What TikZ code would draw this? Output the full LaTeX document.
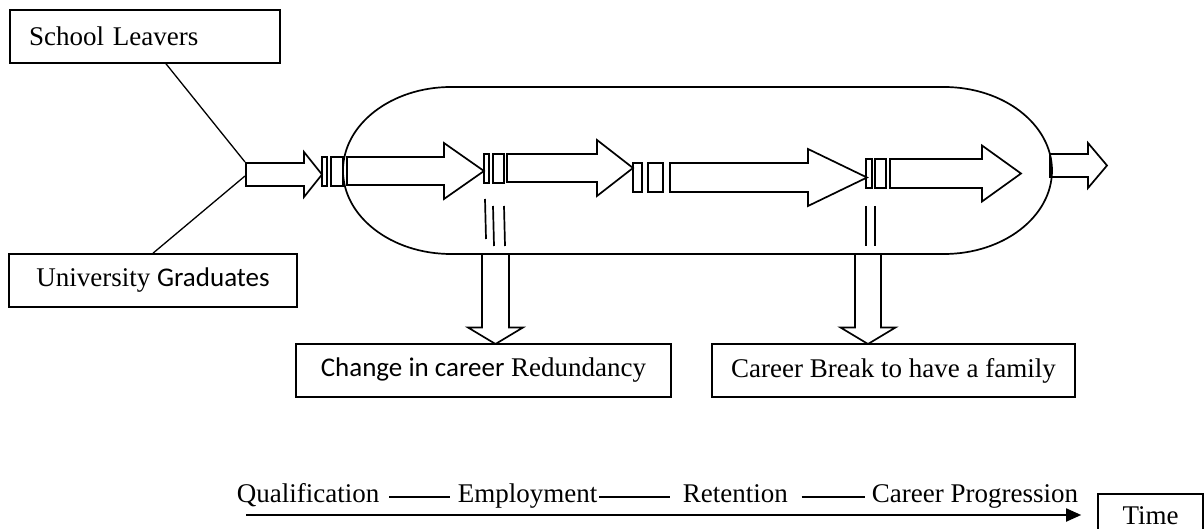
\documentclass[tikz,border=0pt]{standalone}
\usepackage{fontspec}
\setmainfont{Liberation Serif}
\newfontfamily\calibrifont{Carlito}
\usetikzlibrary{arrows.meta}

% fat arrow: left x, centre y, half shaft, head base x, half head, tip x
\newcommand{\fatarrow}[6]{%
  \draw (#1,#2-#3) -- (#4,#2-#3) -- (#4,#2-#5) -- (#6,#2)
     -- (#4,#2+#5) -- (#4,#2+#3) -- (#1,#2+#3) -- cycle;}
% drop arrow: centre x, half shaft, top y, head base y, half head, tip y
\newcommand{\droparrow}[6]{%
  \draw (#1-#2,#3) -- (#1-#2,#4) -- (#1-#5,#4) -- (#1,#6)
     -- (#1+#5,#4) -- (#1+#2,#4) -- (#1+#2,#3);}

\begin{document}
\begin{tikzpicture}[x=1pt,y=-1pt,line width=1.7pt]
    \tikzstyle{box}=[draw,line width=1.6pt,inner sep=0pt,minimum height=53pt,font=\fontsize{27}{32}\selectfont]
    \tikzstyle{stage}=[inner sep=0pt,anchor=base west,font=\fontsize{27}{32}\selectfont]
    \useasboundingbox (0,0) rectangle (1204,529);

    % intake
    \node[box,minimum width=270pt,text width=232pt,align=left] (school) at (145,36.5) {School Leavers};
    \node[box,minimum width=288pt] (uni) at (153,280.5) {University {\calibrifont Graduates}};
    \coordinate (join1) at (245,162);
    \coordinate (join2) at (245,176);
    \draw[line width=1.3pt] ([xshift=21pt]school.south) -- (join1);
    \draw[line width=1.3pt] (uni.north) -- (join2);

    % career pipe
    \draw (451,87) -- (944,87) arc[start angle=90,end angle=-90,x radius=108pt,y radius=83.5pt]
      -- (451,254) arc[start angle=270,end angle=90,x radius=108pt,y radius=83.5pt] -- cycle;

    \fatarrow{246}{174.5}{11.5}{304}{22.5}{322}
    \fatarrow{347}{171}{14}{444}{28}{484}
    \fatarrow{507}{168}{14}{597}{28}{633}
    \fatarrow{670}{177.5}{14.5}{808}{28.5}{867}
    \fatarrow{890}{173.5}{14.5}{982}{28}{1021}
    \fatarrow{1050}{165.5}{11.5}{1088}{22.5}{1107}

    % gates
    \draw (322,157) rectangle (327,186);
    \draw (331,157) rectangle (343,186);
    \draw (484,154) rectangle (489,183);
    \draw (493,154) rectangle (504,183);
    \draw (633,163) rectangle (642,192);
    \draw (648,163) rectangle (663,192);
    \draw (866,159) rectangle (872,188);
    \draw (875,159) rectangle (886,188);

    % leaks
    \draw (485,199) -- (486,239);
    \draw (493,206) -- (494,246);
    \draw (504,206) -- (505,246);
    \draw (866,206) -- (866,246);
    \draw (875,206) -- (875,246);

    \droparrow{495.5}{13.5}{254}{327.5}{27.5}{344}
    \droparrow{868}{13}{254}{327.5}{27.5}{344}

    \node[box,minimum width=375pt] (change) at (483.5,370.5) {{\calibrifont Change in career} Redundancy};
    \node[box,minimum width=363pt] (brk) at (893.5,370.5) {Career Break to have a family};

    % time line
    \node[stage] (qual) at (236,502) {Qualification};
    \node[stage] (empl) at (457,502) {Employment};
    \node[stage] (ret) at (682,502) {Retention};
    \node[stage] (prog) at (871,502) {Career Progression};
    \draw[line width=1.3pt] ([xshift=9pt,yshift=5pt]qual.base east) -- ([xshift=-7pt,yshift=5pt]empl.base west);
    \draw[line width=1.3pt] ([xshift=1pt,yshift=5pt]empl.base east) -- ([xshift=-12pt,yshift=5pt]ret.base west);
    \draw[line width=1.3pt] ([xshift=13pt,yshift=5pt]ret.base east) -- ([xshift=-6pt,yshift=5pt]prog.base west);

    \node[box,minimum width=105pt,minimum height=44pt] (time) at (1150.5,516) {Time};
    \coordinate (tstart) at (246,515);
    \draw[line width=1.8pt,-{Triangle[length=15pt,width=13pt]}] (tstart) -- ([xshift=-16pt]time.west |- tstart);
\end{tikzpicture}
\end{document}
